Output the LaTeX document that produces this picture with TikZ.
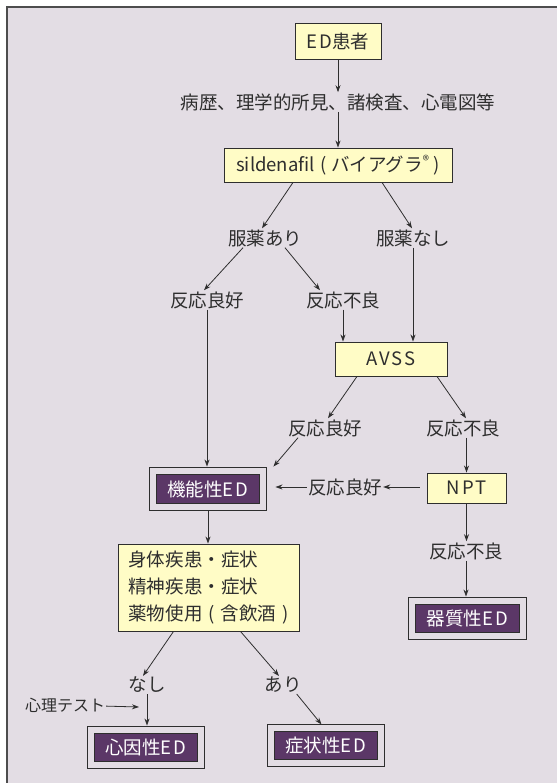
\documentclass[tikz,border=0pt]{standalone}
\usepackage{fontspec}
\setmainfont{Noto Sans CJK JP}
\newfontfamily\ls[LetterSpace=12]{Noto Sans CJK JP}
\usetikzlibrary{arrows.meta}
\definecolor{bg}{HTML}{E3DDE4}
\definecolor{yel}{HTML}{FFFCC6}
\definecolor{pur}{HTML}{5B3767}
\definecolor{ink}{HTML}{2E2E2E}
\begin{document}
\begin{tikzpicture}[x=1pt,y=-1pt,
  font=\fontsize{18.5}{27}\selectfont, text=ink,
  ybox/.style={draw=ink, line width=0.9pt, fill=yel, inner sep=0pt},
  pbox/.style={draw=ink, line width=0.9pt, double=bg, double distance=5.5pt, fill=pur, text=white, inner sep=0pt},
  lab/.style={inner sep=1pt},
  arr/.style={draw=ink, line width=0.8pt, -{Stealth[length=7pt,width=5pt]}}]
\useasboundingbox (0,0) rectangle (557,783);
\fill[white] (0,0) rectangle (557,783);
\fill[bg] (7,7) rectangle (557,783);
\draw[ink!85, line width=1.5pt] (7,783) -- (7,7) -- (557,7);

\node[ybox, minimum width=86, minimum height=36] (ed) at (338,41) {{\ls ED}患者};
\node[lab] (hist) at (338,102) {病歴、理学的所見、諸検査、心電図等};
\node[ybox, minimum width=228, minimum height=34] (sil) at (338,165) {sildenafil\hspace{5pt}(\hspace{5pt}バイアグラ\textsuperscript{®}\hspace{4pt})};
\node[lab] (f1) at (265,238) {服薬あり};
\node[lab] (f2) at (413,238) {服薬なし};
\node[lab] (g1) at (207,300) {反応良好};
\node[lab] (b1) at (343,300) {反応不良};
\node[ybox, minimum width=112, minimum height=34] (avss) at (391,359) {\ls AVSS};
\node[lab] (g2) at (325,428) {反応良好};
\node[lab] (b2) at (463,428) {反応不良};
\node[pbox, minimum width=110, minimum height=36] (kino) at (208,489) {機能性{\ls ED}};
\node[lab] (g3) at (345,487) {反応良好};
\node[ybox, minimum width=79, minimum height=30] (npt) at (466.5,488) {\ls NPT};
\node[ybox, minimum width=181, minimum height=87, align=left, xshift=0pt] (sym) at (208.5,587.5) {身体疾患・症状\\精神疾患・症状\\薬物使用\hspace{6pt}(\hspace{6pt}含飲酒\hspace{6pt})};
\node[lab] (b3) at (466,551) {反応不良};
\node[pbox, minimum width=111, minimum height=35] (kis) at (467.5,618.5) {器質性{\ls ED}};
\node[lab] (nashi) at (147,685) {なし};
\node[lab] (ari) at (283,685) {あり};
\node[lab, font=\fontsize{16}{20}\selectfont] (shinri) at (65,705) {心理テスト};
\node[pbox, minimum width=110, minimum height=35] (shin) at (146,747.5) {心因性{\ls ED}};
\node[pbox, minimum width=110, minimum height=35] (shoj) at (326,745.5) {症状性{\ls ED}};
\coordinate (st) at (139,707);

\draw[arr] (ed) -- (hist);
\draw[arr] (hist) -- (sil);
\draw[arr] ([xshift=-45]sil.south) -- ([xshift=-3]f1.north);
\draw[arr] ([xshift=44]sil.south) -- ([xshift=-1]f2.north);
\draw[arr] ([xshift=-22]f1.south) -- ([xshift=-3]g1.north);
\draw[arr] ([xshift=20]f1.south) -- ([xshift=-23]b1.north);
\draw[arr, shorten >=4pt] (g1) -- (g1 |- kino.north);
\draw[arr] (f2) -- (f2 |- avss.north);
\draw[arr] (b1) -- (b1 |- avss.north);
\draw[arr] ([xshift=-34]avss.south) -- ([xshift=3]g2.north);
\draw[arr] ([xshift=46]avss.south) -- ([xshift=3]b2.north);
\draw[arr] ([xshift=-27]g2.south) -- ([xshift=10,yshift=4]kino.north east);
\draw[arr] (npt.north |- b2.south) -- (npt.north);
\draw[arr, shorten <=7pt] (npt.west |- g3.west) -- (g3.east);
\draw[arr, shorten >=12pt] (g3.west) -- (kino.east |- g3.west);
\draw[arr, shorten <=4pt] (kino) -- (kino |- sym.north);
\draw[arr] (npt.south) -- (npt.south |- b3.north);
\draw[arr, shorten >=4pt] (b3) -- (b3 |- kis.north);
\draw[arr] ([xshift=-35]sym.south) -- ([xshift=-4]nashi.north);
\draw[arr] ([xshift=32]sym.south) -- ([xshift=-4]ari.north);
\draw[arr] (shinri) -- (st);
\draw[arr, shorten >=4pt] (nashi) -- (nashi |- shin.north);
\draw[arr, shorten >=4pt] ([xshift=-6]ari.south east) -- ([xshift=-2]shoj.north);
\end{tikzpicture}
\end{document}
